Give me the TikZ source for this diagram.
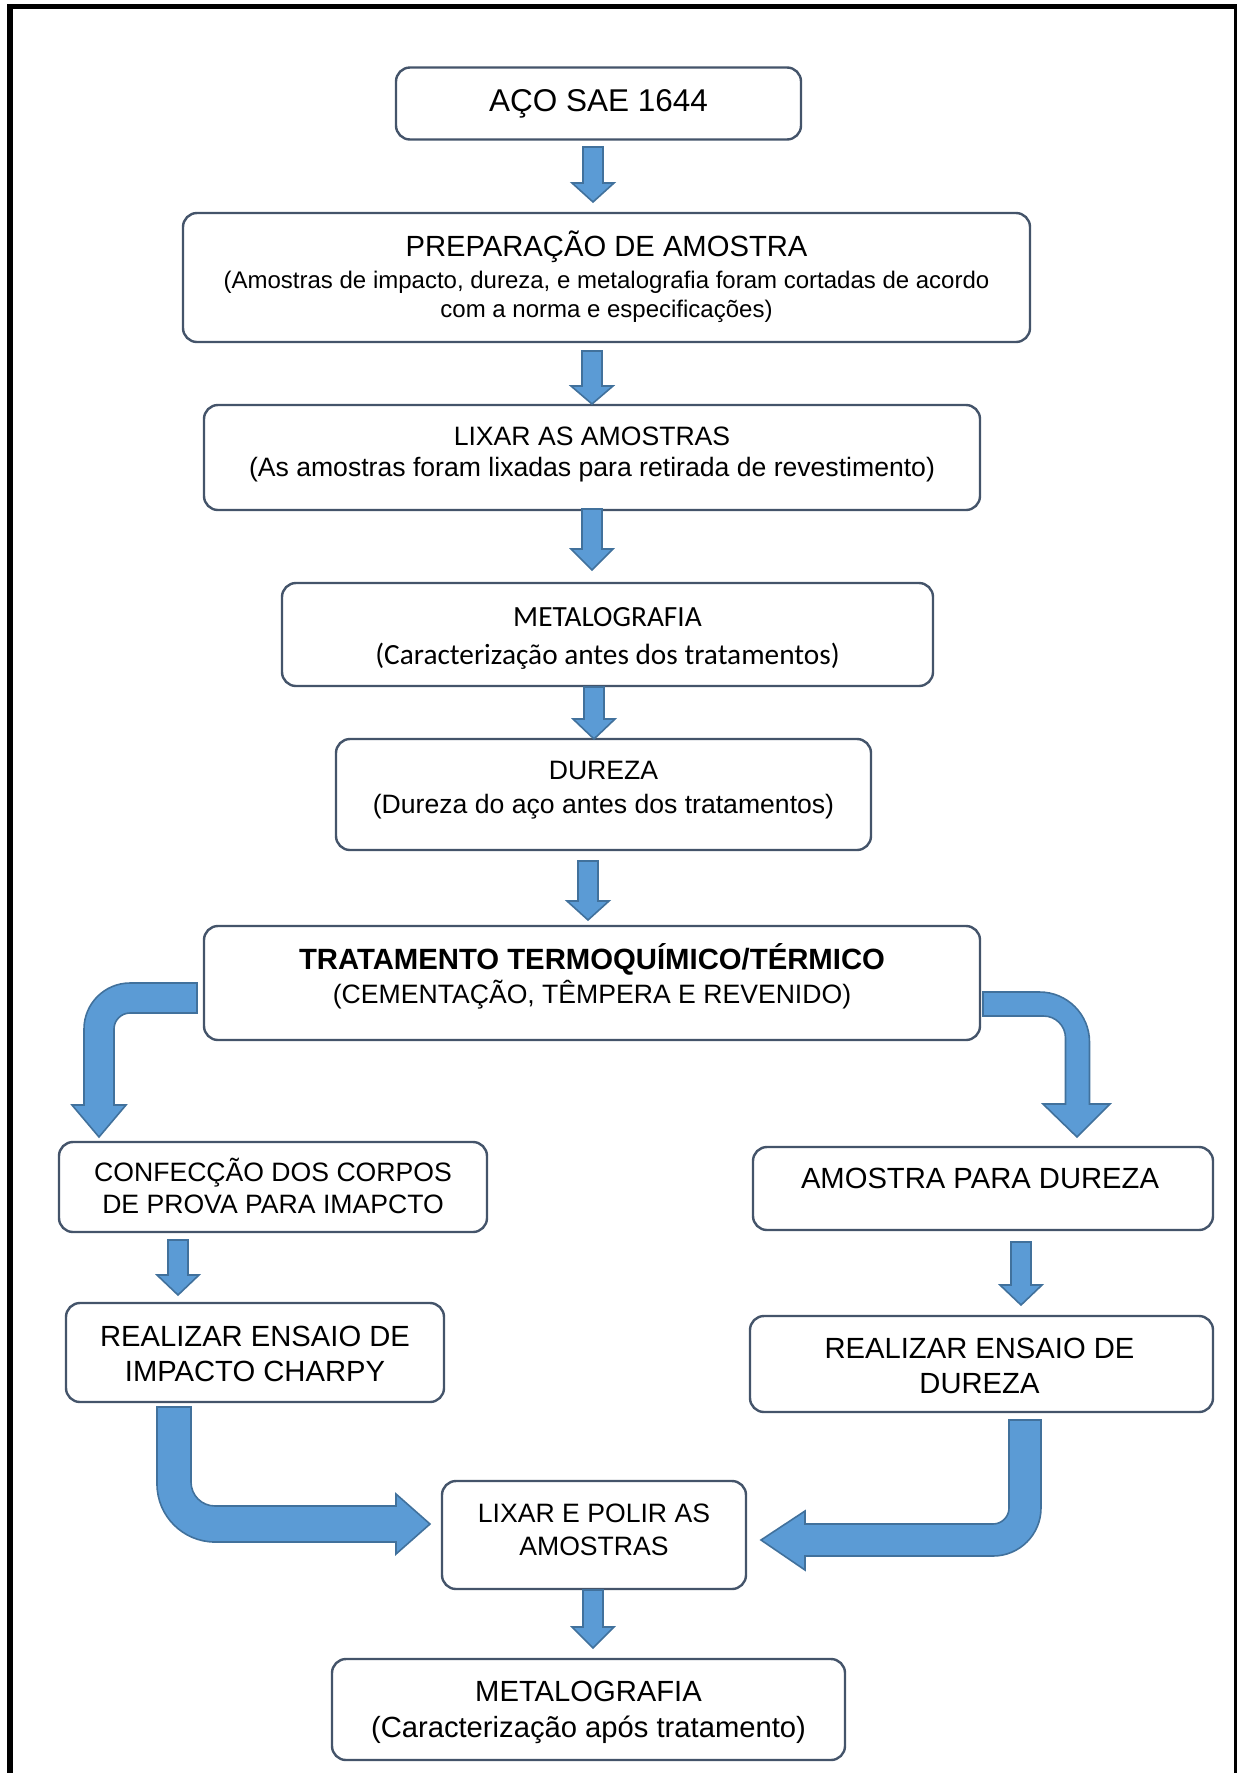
\documentclass[tikz,border=0pt]{standalone}
\usepackage{fontspec}
\setmainfont{Liberation Sans}
\newfontfamily\calibrifont{Carlito}
\usetikzlibrary{calc}
\definecolor{boxline}{HTML}{44546A}
\definecolor{arrowfill}{HTML}{5B9BD5}
\definecolor{arrowline}{HTML}{41719C}
\tikzset{
 box/.style={draw=boxline, line width=2.4pt, rounded corners=14pt, fill=white, inner sep=0pt},
 blockarrow/.style={fill=arrowfill, draw=arrowline, line width=1.6pt, line join=miter},
 txt/.style={anchor=base, inner sep=0pt, font=\fontsize{26.6pt}{30pt}\selectfont},
 txtL/.style={anchor=base, inner sep=0pt, font=\fontsize{29.2pt}{34pt}\selectfont},
 txtS/.style={anchor=base, inner sep=0pt, font=\fontsize{24pt}{28pt}\selectfont},
 txtXL/.style={anchor=base, inner sep=0pt, font=\fontsize{31.5pt}{36pt}\selectfont},
 txtB/.style={anchor=base, inner sep=0pt, font=\fontsize{29.3pt}{34pt}\selectfont\bfseries},
 txtC/.style={anchor=base, inner sep=0pt, font=\calibrifont\fontsize{29.3pt}{34pt}\selectfont},
 frame/.style={draw=black, line width=5.5pt, line join=miter},
}
\newcommand{\blockdown}[3]{%
 \filldraw[blockarrow] let \p1=(#1), \p2=(#2) in
 (\x1-10pt,\y1) -- (\x1+10pt,\y1) -- (\x1+10pt,\y2+#3) -- (\x1+21pt,\y2+#3) -- (\x2,\y2) -- (\x1-21pt,\y2+#3) -- (\x1-10pt,\y2+#3) -- cycle;}
\begin{document}
\begin{tikzpicture}[x=1pt,y=-1pt]
\useasboundingbox (0,0) rectangle (1237,1773);
% frame
\draw[frame] (10,1790) -- (10,6.5) -- (1237,6.5) -- (1237,1790);

% boxes
\node[box, minimum width=405pt, minimum height=72pt] (b1) at (598.5,103.5) {};
\node[txtXL] (t1) at (598.5,111) {AÇO SAE 1644};

\node[box, minimum width=847pt, minimum height=129pt] (b2) at (606.5,277.5) {};
\node[txtL] (t2a) at (606.5,256) {PREPARAÇÃO DE AMOSTRA};
\node[txtS] (t2b) at (606.5,288) {(Amostras de impacto, dureza, e metalografia foram cortadas de acordo};
\node[txtS] (t2c) at (606.5,317) {com a norma e especificações)};

\node[box, minimum width=776pt, minimum height=105pt] (b3) at (592,457.5) {};
\node[txt] (t3a) at (592,445) {LIXAR AS AMOSTRAS};
\node[txt] (t3b) at (592,476) {(As amostras foram lixadas para retirada de revestimento)};

\node[box, minimum width=651pt, minimum height=103pt] (b4) at (607.5,634.5) {};
\node[txtC] (t4a) at (607.5,626) {METALOGRAFIA};
\node[txtC] (t4b) at (607.5,664) {(Caracterização antes dos tratamentos)};

\node[box, minimum width=535pt, minimum height=111pt] (b5) at (603.5,794.5) {};
\node[txt] (t5a) at (603.5,779.5) {DUREZA};
\node[txt] (t5b) at (603.5,813.5) {(Dureza do aço antes dos tratamentos)};

\node[box, minimum width=776pt, minimum height=114pt] (b6) at (592,983) {};
\node[txtB] (t6a) at (592,969) {TRATAMENTO TERMOQUÍMICO/TÉRMICO};
\node[txt] (t6b) at (592,1003) {(CEMENTAÇÃO, TÊMPERA E REVENIDO)};

\node[box, minimum width=428pt, minimum height=90pt] (b7) at (273,1187) {};
\node[txt] (t7a) at (273,1181) {CONFECÇÃO DOS CORPOS};
\node[txt] (t7b) at (273,1213) {DE PROVA PARA IMAPCTO};

\node[box, minimum width=460pt, minimum height=83pt] (b8) at (983,1188.5) {};
\node[txtL] (t8a) at (980,1188) {AMOSTRA PARA DUREZA};

\node[box, minimum width=378pt, minimum height=99pt] (b9) at (255,1352.5) {};
\node[txtL] (t9a) at (255,1346) {REALIZAR ENSAIO DE};
\node[txtL] (t9b) at (255,1381) {IMPACTO CHARPY};

\node[box, minimum width=463pt, minimum height=96pt] (b10) at (981.5,1364) {};
\node[txtL] (t10a) at (979.5,1358) {REALIZAR ENSAIO DE};
\node[txtL] (t10b) at (979.5,1393) {DUREZA};

\node[box, minimum width=304pt, minimum height=108pt] (b11) at (594,1535) {};
\node[txt] (t11a) at (594,1522) {LIXAR E POLIR AS};
\node[txt] (t11b) at (594,1555) {AMOSTRAS};

\node[box, minimum width=513pt, minimum height=101pt] (b12) at (588.5,1709.5) {};
\node[txtL] (t12a) at (588.5,1701) {METALOGRAFIA};
\node[txtL] (t12b) at (588.5,1737) {(Caracterização após tratamento)};

% straight block arrows (start / tip coordinates)
\coordinate (a1s) at (593,147);  \coordinate (a1e) at (593,202);
\coordinate (a2s) at (592,351);  \coordinate (a2e) at (592,404);
\coordinate (a3s) at (592,509);  \coordinate (a3e) at (592,570);
\coordinate (a4s) at (594,687);  \coordinate (a4e) at (594,739);
\coordinate (a5s) at (588,861);  \coordinate (a5e) at (588,920);
\coordinate (a6s) at (178,1240); \coordinate (a6e) at (178,1295);
\coordinate (a7s) at (1021,1242); \coordinate (a7e) at (1021,1305);
\coordinate (a8s) at (593,1590); \coordinate (a8e) at (593,1648);
\blockdown{a1s}{a1e}{19pt}
\blockdown{a2s}{a2e}{18pt}
\blockdown{a3s}{a3e}{21pt}
\blockdown{a4s}{a4e}{20pt}
\blockdown{a5s}{a5e}{19pt}
\blockdown{a6s}{a6e}{20pt}
\blockdown{a7s}{a7e}{20pt}
\blockdown{a8s}{a8e}{21pt}

% curved block arrows
\coordinate (c1s) at (197,983); \coordinate (c1e) at (99,1137);
\filldraw[blockarrow] (c1s) -- (130,983) .. controls (104.6,983) and (84,1003.6) .. (84,1029)
 -- (84,1105) -- (72,1105) -- (c1e) -- (126,1105) -- (114,1105) -- (114,1029)
 .. controls (114,1020.2) and (121.2,1013) .. (130,1013) -- (197,1013) -- cycle;

\coordinate (c2s) at (983,992); \coordinate (c2e) at (1077,1137);
\filldraw[blockarrow] (c2s) -- (1039.5,992) .. controls (1067.1,992) and (1089.5,1014.4) .. (1089.5,1042)
 -- (1089.5,1104) -- (1110,1104) -- (c2e) -- (1043,1104) -- (1065.5,1104) -- (1065.5,1038)
 .. controls (1065.5,1025.8) and (1055.7,1016) .. (1043.5,1016) -- (983,1016) -- cycle;

\coordinate (c3s) at (157,1407); \coordinate (c3e) at (430,1524);
\filldraw[blockarrow] (c3s) -- (191,1407) -- (191,1482) .. controls (191,1495.3) and (201.7,1506) .. (215,1506)
 -- (396,1506) -- (396,1494) -- (c3e) -- (396,1554) -- (396,1542) -- (215,1542)
 .. controls (183,1542) and (157,1516) .. (157,1484) -- cycle;

\coordinate (c4s) at (1009,1420); \coordinate (c4e) at (761,1540);
\filldraw[blockarrow] (c4s) -- (1041,1420) -- (1041,1508) .. controls (1041,1534.5) and (1019.5,1556) .. (993,1556)
 -- (805,1556) -- (805,1570) -- (c4e) -- (805,1511) -- (805,1524) -- (993,1524)
 .. controls (1001.8,1524) and (1009,1516.8) .. (1009,1508) -- cycle;
\end{tikzpicture}
\end{document}
